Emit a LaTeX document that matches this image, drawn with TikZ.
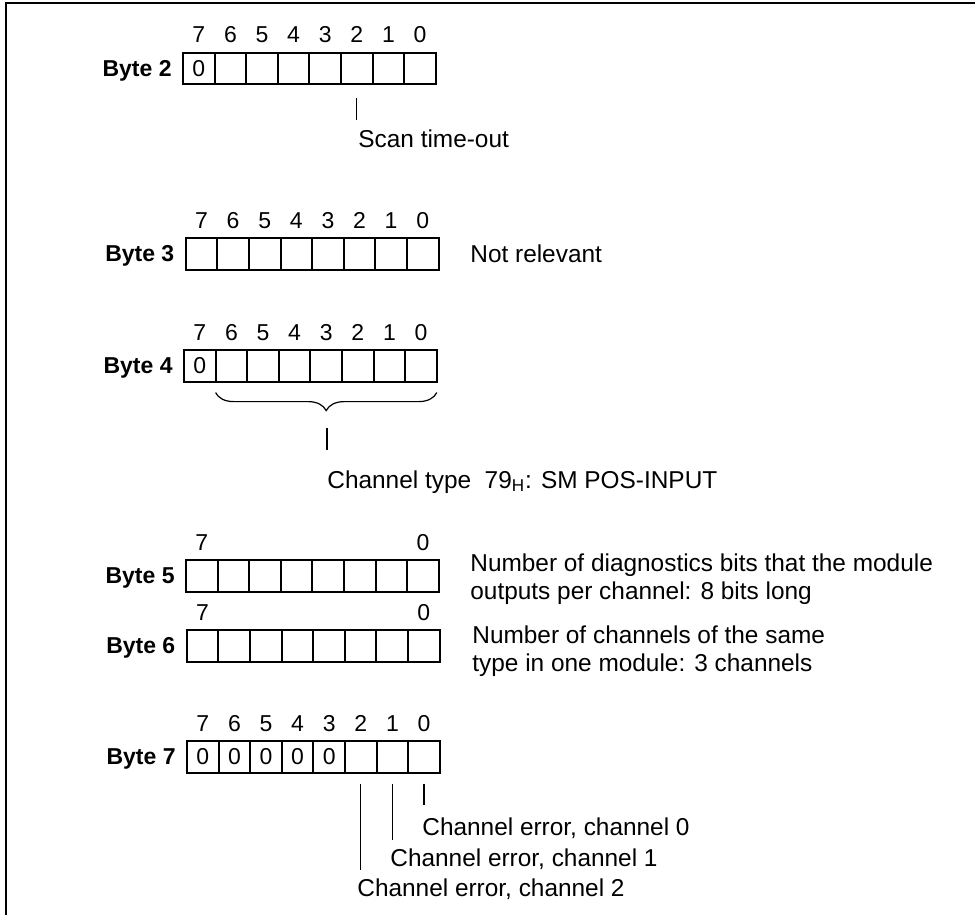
\documentclass[tikz,border=0pt]{standalone}
\usepackage{fontspec}
\setmainfont{Liberation Sans}
\usetikzlibrary{positioning,decorations.pathreplacing}
\newcommand\diagfont{\fontsize{11.5}{14}\selectfont}
\newcommand\notefont{\fontsize{12.2}{14}\selectfont}

\begin{document}
\begin{tikzpicture}[x=0.5pt,y=-0.5pt,font=\diagfont,
  bit/.style={draw,line width=1pt,minimum width=15.8pt,minimum height=15.8pt,inner sep=0pt,outer sep=0pt},
  num/.style={inner sep=0pt,anchor=base},
  lbl/.style={font=\diagfont\bfseries,inner sep=0pt,anchor=base east},
  txt/.style={font=\notefont,inner sep=0pt,anchor=base west},
  pin/.style={line width=0.6pt}]
\useasboundingbox (0,0) rectangle (975,915);
\draw[line width=1pt] (975,3)--(6,3)--(6,915);
% the six bytes
\foreach \b/\l/\t in {2/183/52.7,3/185.7/238,4/184/350,5/186/560,6/186.7/630,7/187/741}
  \foreach \i in {7,...,0}
    \node[bit] (b\b-\i) at ({\l+(7.5-\i)*31.6},{\t+15.8}) {};
\foreach \c in {b2-7,b4-7,b7-7,b7-6,b7-5,b7-4,b7-3}
  \node (z-\c) at (\c) {0};
\foreach \b in {2,3,4,7}
  \foreach \i in {7,...,0}
    \node[num] (n\b-\i) at ([yshift=5pt]b\b-\i.north) {\i};
\foreach \b in {5,6}
  \foreach \i in {7,0}
    \node[num] (n\b-\i) at ([yshift=5pt]b\b-\i.north) {\i};
\foreach \b in {2,...,7}
  \node[lbl] (l\b) at ([xshift=-5.5pt,yshift=-4pt]b\b-7.west) {Byte \b};
% byte 2
\node[txt] (scan) at (358,148) {Scan time-out};
\draw[pin] ([yshift=-6.8pt]b2-2.south)--([yshift=5pt]b2-2.south |- scan.north);
% byte 3
\node[txt] (nrel) at (470,262) {Not relevant};
% byte 4
\draw[pin,decorate,decoration={brace,amplitude=9pt}] ([yshift=-5.5pt]b4-0.south east)--([yshift=-5.5pt]b4-6.south west);
\coordinate (tip) at (327,428);
\coordinate (tipend) at (327,450);
\node[txt] (ctype) at (327,488) {Channel type\ \ 79\textsubscript{H}: SM POS-INPUT};
\draw[pin] (tip)--(tipend);
% byte 5, byte 6
\node[txt,anchor=west,align=left] (diag) at (470,579) {Number of diagnostics bits that the module\\outputs per channel: 8 bits long};
\node[txt,anchor=west,align=left] (chan) at (472,651) {Number of channels of the same\\type in one module: 3 channels};
% byte 7
\node[txt] (ch0) at (422,835) {Channel error, channel 0};
\node[txt] (ch1) at (390,866) {Channel error, channel 1};
\node[txt] (ch2) at (357,896) {Channel error, channel 2};
\draw[pin] ([yshift=-5.5pt]b7-0.south)--([yshift=6pt]b7-0.south |- ch0.north);
\draw[pin] ([yshift=-5.5pt]b7-1.south)--([yshift=4pt]b7-1.south |- ch1.north);
\draw[pin] ([yshift=-5.5pt]b7-2.south)--([yshift=4pt]b7-2.south |- ch2.north);
\end{tikzpicture}
\end{document}
